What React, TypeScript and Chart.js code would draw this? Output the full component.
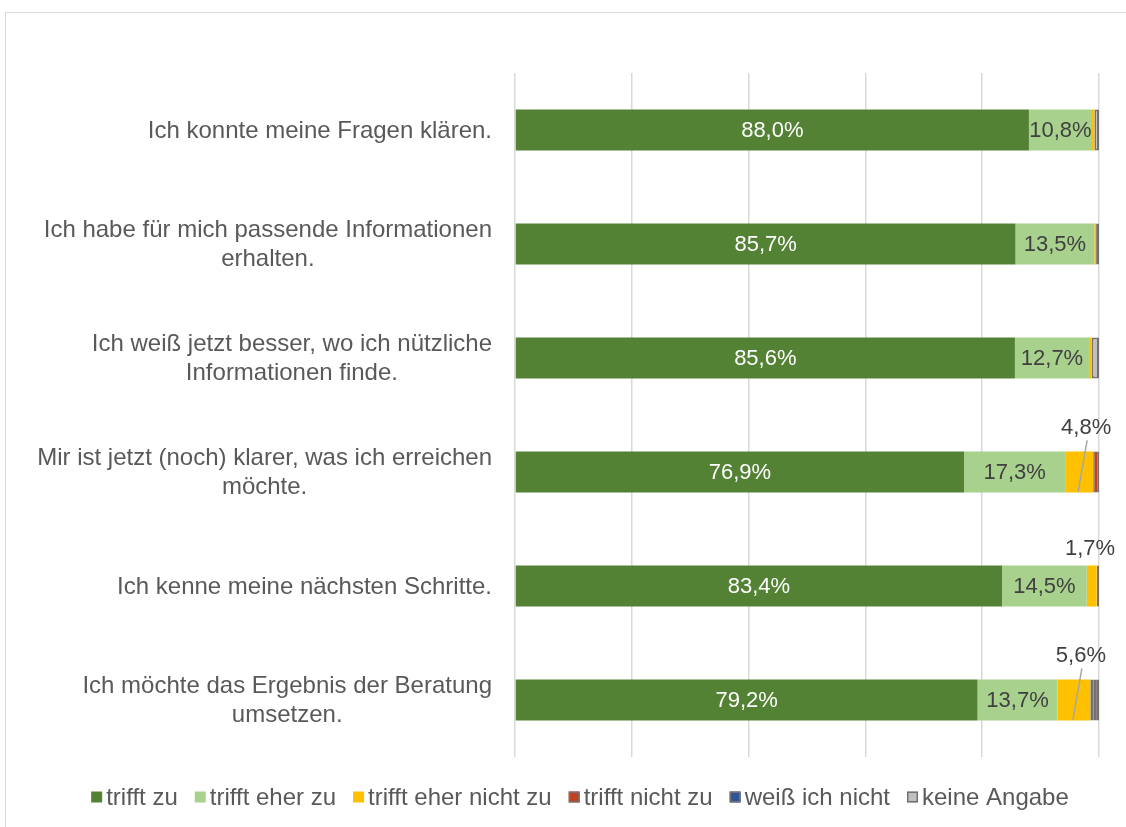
import React, { useEffect, useRef } from "react";
import { Chart, registerables } from "chart.js";

Chart.register(...registerables);

const categories: string[][] = [
  ["Ich konnte meine Fragen klären."],
  ["Ich habe für mich passende Informationen", "erhalten."],
  ["Ich weiß jetzt besser, wo ich nützliche", "Informationen finde."],
  ["Mir ist jetzt (noch) klarer, was ich erreichen", "möchte."],
  ["Ich kenne meine nächsten Schritte."],
  ["Ich möchte das Ergebnis der Beratung", "umsetzen."],
];

const seriesNames = [
  "trifft zu",
  "trifft eher zu",
  "trifft eher nicht zu",
  "trifft nicht zu",
  "weiß ich nicht",
  "keine Angabe",
];

const trifftZu = [88.0, 85.7, 85.6, 76.9, 83.4, 79.2];
const trifftEherZu = [10.8, 13.5, 12.7, 17.3, 14.5, 13.7];
const trifftEherNichtZu = [0.4, 0.3, 0.4, 4.8, 1.7, 5.6];
const trifftNichtZu = [0, 0, 0, 1.0, 0, 0.5];
const weissIchNicht = [0, 0, 0, 0, 0, 0.5];
const keineAngabe = [0.8, 0.5, 1.3, 0, 0.4, 0.5];

const xTicks = [0, 20, 40, 60, 80, 100];

const COLORS = ["#548235", "#a9d18e", "#ffc000", "#c5401f", "#2f5597", "#bfbfbf"];
const BORDER = "#767171";
const FONT = '"Liberation Sans", Arial, Helvetica, sans-serif';
const TEXT = "#595959";

const fmt = (v: number) => v.toFixed(1).replace(".", ",") + "%";

const yLabelPlugin = {
  id: "yLabels",
  afterDraw(chart: any) {
    const ctx = chart.ctx;
    const y = chart.scales.y;
    const right = chart.chartArea.left - 23;
    const lh = 29;
    ctx.save();
    ctx.font = `24px ${FONT}`;
    ctx.fillStyle = TEXT;
    ctx.textAlign = "center";
    ctx.textBaseline = "middle";
    categories.forEach((lines, i) => {
      const cy = y.getPixelForValue(i);
      const w = Math.max(...lines.map((l) => ctx.measureText(l).width));
      const cx = right - w / 2;
      lines.forEach((l, j) => {
        ctx.fillText(l, cx, cy + (j - (lines.length - 1) / 2) * lh + 1);
      });
    });
    ctx.restore();
  },
};

const valueLabelPlugin = {
  id: "valueLabels",
  afterDatasetsDraw(chart: any) {
    const ctx = chart.ctx;
    ctx.save();
    ctx.font = `22px ${FONT}`;
    ctx.textAlign = "center";
    ctx.textBaseline = "middle";
    [0, 1].forEach((di) => {
      const meta = chart.getDatasetMeta(di);
      meta.data.forEach((bar: any, i: number) => {
        const v = chart.data.datasets[di].data[i];
        if (v == null) return;
        const cx = (bar.x + bar.base) / 2;
        ctx.fillStyle = di === 0 ? "#ffffff" : "#404040";
        ctx.fillText(fmt(v), cx, bar.y + 1);
      });
    });
    const meta2 = chart.getDatasetMeta(2);
    meta2.data.forEach((bar: any, i: number) => {
      const v = chart.data.datasets[2].data[i];
      if (v == null || v < 1) return;
      const segCx = (bar.x + bar.base) / 2;
      const top = bar.y - bar.height / 2;
      const bottom = bar.y + bar.height / 2;
      const lx = Math.min(segCx + 7, 1090);
      const ly = top - (v > 3 ? 24 : 17);
      ctx.fillStyle = "#404040";
      ctx.fillText(fmt(v), lx, ly);
      if (v > 3) {
        ctx.strokeStyle = "#a6a6a6";
        ctx.lineWidth = 1.5;
        ctx.beginPath();
        ctx.moveTo(lx + 1, ly + 13);
        ctx.lineTo(segCx - 1, bottom - 1);
        ctx.stroke();
      }
    });
    ctx.restore();
  },
};

const legendPlugin = {
  id: "customLegend",
  afterDraw(chart: any) {
    const ctx = chart.ctx;
    ctx.save();
    ctx.font = `24px ${FONT}`;
    ctx.textBaseline = "middle";
    ctx.textAlign = "left";
    const box = 11;
    const gapBoxText = 4;
    const gapItems = 17;
    const widths = seriesNames.map((n) => ctx.measureText(n).width);
    const total =
      widths.reduce((a, w) => a + box + gapBoxText + w, 0) + gapItems * (seriesNames.length - 1);
    let x = 580 - total / 2;
    const cy = 797;
    seriesNames.forEach((n, i) => {
      ctx.fillStyle = COLORS[i];
      ctx.fillRect(x, cy - box / 2, box, box);
      if (i >= 3) {
        ctx.strokeStyle = BORDER;
        ctx.lineWidth = 1.5;
        ctx.strokeRect(x + 0.75, cy - box / 2 + 0.75, box - 1.5, box - 1.5);
      }
      ctx.fillStyle = TEXT;
      ctx.fillText(n, x + box + gapBoxText, cy + 1);
      x += box + gapBoxText + widths[i] + gapItems;
    });
    ctx.restore();
  },
};

export default function App() {
  const ref = useRef<HTMLCanvasElement | null>(null);
  useEffect(() => {
    if (!ref.current) return;
    const series = [trifftZu, trifftEherZu, trifftEherNichtZu, trifftNichtZu, weissIchNicht, keineAngabe];
    const chart = new Chart(ref.current, {
      type: "bar",
      data: {
        labels: categories.map((c) => c.join(" ")),
        datasets: series.map((d, i) => ({
          label: seriesNames[i],
          data: d.map((v) => (v === 0 ? null : v)),
          backgroundColor: COLORS[i],
          borderColor: i >= 3 ? BORDER : COLORS[i],
          borderWidth: i === 5 ? 2 : i >= 3 ? 1.5 : 0,
          borderSkipped: false,
          barPercentage: 0.36,
          categoryPercentage: 1,
        })),
      },
      options: {
        indexAxis: "y",
        responsive: false,
        animation: false,
        devicePixelRatio: 1,
        layout: { padding: { top: 73, right: 27, bottom: 70, left: 0 } },
        plugins: {
          legend: { display: false },
          tooltip: { enabled: false },
        },
        scales: {
          x: {
            stacked: true,
            min: xTicks[0],
            max: xTicks[xTicks.length - 1],
            afterBuildTicks: (s: any) => {
              s.ticks = xTicks.map((v) => ({ value: v }));
            },
            ticks: { display: false },
            grid: { color: "#d9d9d9", lineWidth: 1.5, drawTicks: false },
            border: { display: false },
          },
          y: {
            stacked: true,
            ticks: { display: false },
            grid: { display: false, drawTicks: false },
            border: { display: false },
            afterFit: (s: any) => {
              s.width = 515;
            },
          },
        },
      } as any,
      plugins: [yLabelPlugin, valueLabelPlugin, legendPlugin],
    });
    return () => chart.destroy();
  }, []);

  return (
    <div
      style={{
        position: "fixed",
        left: 0,
        top: 0,
        width: 1126,
        height: 827,
        overflow: "hidden",
        background: "#ffffff",
      }}
    >
      <div
        style={{
          position: "absolute",
          left: 5,
          top: 12,
          width: 1200,
          height: 900,
          border: "1.5px solid #d9d9d9",
        }}
      />
      <canvas
        ref={ref}
        width={1126}
        height={827}
        style={{ position: "absolute", left: 0, top: 0 }}
      />
    </div>
  );
}
